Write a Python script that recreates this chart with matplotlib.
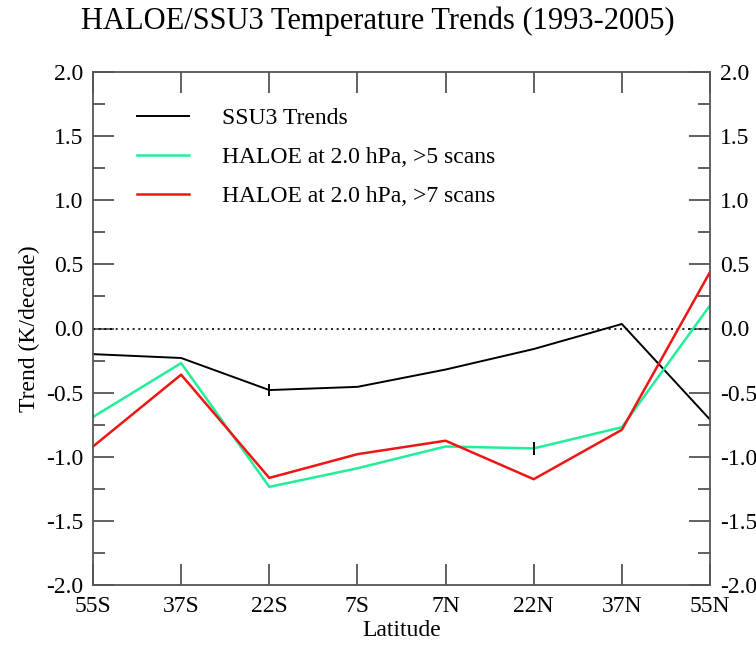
import numpy as np
import matplotlib
matplotlib.use("Agg")
import matplotlib.pyplot as plt
from matplotlib.ticker import MultipleLocator

plt.rcParams.update({
    "font.family": "serif",
    "font.serif": ["Liberation Serif", "DejaVu Serif"],
    "font.size": 17,
    "axes.linewidth": 1.3,
    "axes.edgecolor": "#555555",
})

# Latitude bins and zonal-mean trends (K/decade)
latitudes = ["55S", "37S", "22S", "7S", "7N", "22N", "37N", "55N"]
ssu3_trend = [-0.20, -0.23, -0.48, -0.455, -0.32, -0.16, 0.035, -0.71]
haloe_5scans = [-0.69, -0.27, -1.235, -1.09, -0.92, -0.935, -0.77, 0.18]
haloe_7scans = [-0.92, -0.36, -1.165, -0.98, -0.875, -1.175, -0.79, 0.44]

# single-point uncertainty markers
err_ssu3_idx, err_ssu3 = 2, 0.05
err_haloe_idx, err_haloe = 5, 0.05

x = np.arange(len(latitudes))

fig = plt.figure(figsize=(7.56, 6.5), dpi=100)
ax = fig.add_axes([93 / 756, 1 - 585 / 650, (710 - 93) / 756, (585 - 72) / 650])

ax.axhline(0.0, color="black", lw=1.2, linestyle=(0, (1.2, 2.2)))

ax.plot(x, ssu3_trend, color="black", lw=1.4, label="SSU3 Trends")
ax.plot(x, haloe_5scans, color="#22ee99", lw=1.8, label="HALOE at 2.0 hPa, >5 scans")
ax.plot(x, haloe_7scans, color="#ee1515", lw=1.8, label="HALOE at 2.0 hPa, >7 scans")

ax.errorbar(x[err_ssu3_idx], ssu3_trend[err_ssu3_idx], yerr=err_ssu3,
            fmt="none", ecolor="black", elinewidth=1.4, capsize=0)
ax.errorbar(x[err_haloe_idx], haloe_5scans[err_haloe_idx], yerr=err_haloe,
            fmt="none", ecolor="black", elinewidth=1.4, capsize=0)

ax.set_xlim(x[0], x[-1])
ax.set_ylim(-2.0, 2.0)
ax.set_xticks(x)
ax.set_xticklabels(latitudes)
ax.yaxis.set_major_locator(MultipleLocator(0.5))
ax.yaxis.set_minor_locator(MultipleLocator(0.25))
ax.yaxis.set_major_formatter(matplotlib.ticker.FormatStrFormatter("%.1f"))

ax.tick_params(axis="both", which="major", direction="in", length=15, width=1.3,
               color="#555555", top=True, right=True, labelright=True, pad=7)
ax.tick_params(axis="y", which="minor", direction="in", length=8.5, width=1.3,
               color="#555555", right=True)
ax.tick_params(axis="x", which="both", pad=8)

ax.set_xlabel("Latitude", labelpad=2)
ax.set_ylabel("Trend (K/decade)", labelpad=4)
fig.suptitle("HALOE/SSU3 Temperature Trends (1993-2005)", fontsize=22, y=0.99)

ax.legend(loc="upper left", bbox_to_anchor=(0.072, 0.93), frameon=False,
          handlelength=2.2, handletextpad=1.4, labelspacing=0.73,
          borderaxespad=0, borderpad=0, fontsize=17)

fig.savefig("out.png", dpi=100)
